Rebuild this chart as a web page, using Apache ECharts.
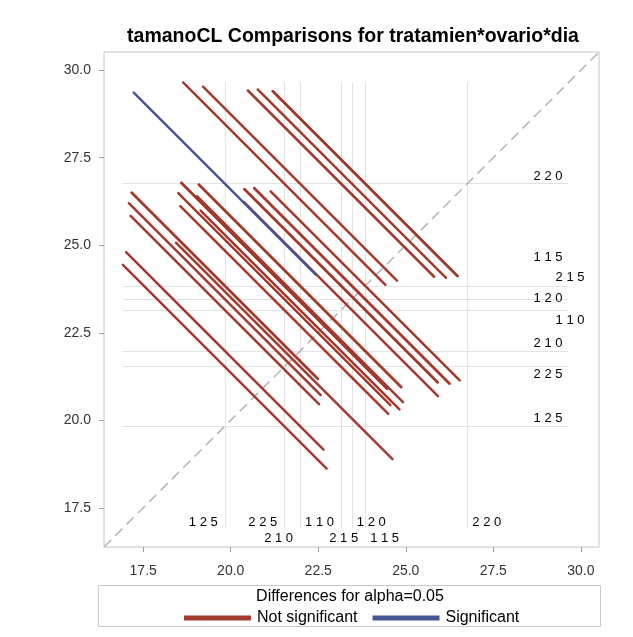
<!DOCTYPE html>
<html>
<head>
<meta charset="utf-8">
<script src="https://cdn.jsdelivr.net/npm/echarts@6/dist/echarts.min.js"></script>
<style>
html,body{margin:0;padding:0;background:#fff;}
#main{width:633px;height:637px;}
</style>
</head>
<body>
<div id="main"></div>
<script>
// LS-means per level (tratamien*ovario*dia)
var levels = ['110', '115', '120', '125', '210', '215', '220', '225'];
var lsmeans = [23.15, 23.84, 23.46, 19.83, 21.98, 23.84, 26.76, 21.53];

// pairwise comparisons: x level, y level, half length of the segment
var pairX = ['125','125','125','125','125','125','125','225','225','225','225','225','225','210','210','210','210','210','110','110','110','110','120','120','120','215','215','115'];
var pairY = ['225','210','110','120','215','115','220','210','110','120','215','115','220','110','120','215','115','220','120','215','115','220','215','115','220','115','220','220'];
var halfLen = [2.91, 2.82, 2.69, 2.74, 2.66, 2.66, 2.60,
               3.09, 2.97, 3.03, 2.94, 2.94, 2.89,
               2.84, 2.94, 2.89, 2.89, 2.77,
               2.77, 2.76, 2.76, 2.66,
               2.79, 2.79, 2.69,
               2.70, 2.64, 2.64];

var tickValues = [17.5, 20.0, 22.5, 25.0, 27.5, 30.0];
var axisMin = 16.38, axisMax = 30.52;

var RED = '#A23A2E', BLUE = '#445694';
var FONT = '"Liberation Sans", Arial, sans-serif';

// label layout for the reference lines (bottom: side/row, right: column/offset)
var botSide = {'125':'L','225':'L','210':'L','110':'L','120':'R','215':'L','115':'R','220':'R'};
var botRow  = {'125':1,'225':1,'210':2,'110':1,'120':1,'215':2,'115':2,'220':1};
var rightCol = {'220':1,'115':1,'215':2,'120':1,'110':2,'210':1,'225':1,'125':1};
var rightDy  = {'220':-7,'115':-28,'215':-8,'120':-1,'110':10,'210':-8,'225':8,'125':-8};

function meanOf(lv){ return lsmeans[levels.indexOf(lv)]; }

var notSig = [], sig = [];
var refMin = Infinity, refMax = -Infinity;
for (var i = 0; i < pairX.length; i++) {
    var cx = meanOf(pairX[i]), cy = meanOf(pairY[i]), h = halfLen[i];
    var seg = {coords: [[cx - h, cy + h], [cx + h, cy - h]]};
    refMin = Math.min(refMin, cx - h, cy - h);
    refMax = Math.max(refMax, cx + h, cy + h);
    if (Math.abs(cx - cy) > 2 * h) sig.push(seg); else notSig.push(seg);
}

var refLines = [];
lsmeans.forEach(function(m, k){
    if (lsmeans.indexOf(m) !== k) return;
    refLines.push({coords: [[m, refMin], [m, refMax]]});
    refLines.push({coords: [[refMin, m], [refMax, m]]});
});

var myChart = echarts.init(document.getElementById('main'));

option = {
    backgroundColor: '#fff',
    animation: false,
    textStyle: {fontFamily: FONT},
    title: {
        text: 'tamanoCL Comparisons for tratamien*ovario*dia',
        left: 348,
        textAlign: 'center',
        top: 22,
        textStyle: {fontSize: 19.5, fontWeight: 'bold', color: '#000', fontFamily: FONT}
    },
    grid: {
        left: 104, top: 52, right: 34, bottom: 90,
        show: true, borderColor: '#c4c4c4', borderWidth: 1
    },
    legend: {
        left: 184,
        top: 610,
        padding: 0,
        itemWidth: 65,
        itemHeight: 3,
        itemGap: 15,
        icon: 'rect',
        textStyle: {fontSize: 16, color: '#000', fontFamily: FONT, padding: [0, 0, 0, 2]},
        data: ['Not significant', 'Significant']
    },
    xAxis: {
        type: 'value', min: axisMin, max: axisMax,
        axisLine: {show: false},
        splitLine: {show: false},
        axisTick: {show: true, customValues: tickValues, length: 5, lineStyle: {color: '#a0a0a0'}},
        axisLabel: {
            customValues: tickValues, margin: 17, fontSize: 14, color: '#333',
            formatter: function(v){ return v.toFixed(1); }
        }
    },
    yAxis: {
        type: 'value', min: axisMin, max: axisMax,
        axisLine: {show: false},
        splitLine: {show: false},
        axisTick: {show: true, customValues: tickValues, length: 5, lineStyle: {color: '#a0a0a0'}},
        axisLabel: {
            customValues: tickValues, margin: 13, fontSize: 14, color: '#333',
            formatter: function(v){ return v.toFixed(1); }
        }
    },
    graphic: [
        {type: 'rect', shape: {x: 98.5, y: 585.5, width: 502, height: 41},
         style: {fill: 'none', stroke: '#c8c8c8', lineWidth: 1}},
        {type: 'text', x: 350, y: 597,
         style: {text: 'Differences for alpha=0.05', fill: '#000', font: '16px ' + FONT,
                 textAlign: 'center', textVerticalAlign: 'middle'}}
    ],
    series: [
        {
            name: 'ref', type: 'lines', coordinateSystem: 'cartesian2d', silent: true, z: 1,
            lineStyle: {color: '#e2e2e2', width: 1, opacity: 1},
            data: refLines
        },
        {
            name: 'diag', type: 'lines', coordinateSystem: 'cartesian2d', silent: true, z: 2,
            lineStyle: {color: '#b4b4b4', width: 1.5, type: [10, 6], opacity: 1},
            data: [{coords: [[axisMin, axisMin], [axisMax, axisMax]]}]
        },
        {
            name: 'Not significant', type: 'lines', coordinateSystem: 'cartesian2d', z: 3,
            itemStyle: {color: RED},
            lineStyle: {color: RED, width: 2.5, opacity: 1, cap: 'round'},
            data: notSig
        },
        {
            name: 'Significant', type: 'lines', coordinateSystem: 'cartesian2d', z: 4,
            itemStyle: {color: BLUE},
            lineStyle: {color: BLUE, width: 2.5, opacity: 1, cap: 'round'},
            data: sig
        },
        {
            name: 'labels', type: 'custom', coordinateSystem: 'cartesian2d', silent: true, z: 5,
            clip: false,
            encode: {x: 0, y: 1},
            data: lsmeans.map(function(m){ return [m, m]; }),
            renderItem: function(params, api){
                var lv = levels[params.dataIndex];
                var m = lsmeans[params.dataIndex];
                var txt = lv.split('').join(' ');
                var pb = api.coord([m, axisMin]);
                var pr = api.coord([axisMax, m]);
                var left = botSide[lv] === 'L';
                return {
                    type: 'group',
                    children: [
                        {type: 'text', x: pb[0] + (left ? -7 : 5), y: pb[1] - (botRow[lv] === 1 ? 25 : 9),
                         style: {text: txt, fill: '#000', font: '13px ' + FONT,
                                 textAlign: left ? 'right' : 'left', textVerticalAlign: 'middle'}},
                        {type: 'text', x: pr[0] - (rightCol[lv] === 1 ? 51 : 29), y: pr[1] + rightDy[lv],
                         style: {text: txt, fill: '#000', font: '13px ' + FONT,
                                 textAlign: 'center', textVerticalAlign: 'middle'}}
                    ]
                };
            }
        }
    ]
};

myChart.setOption(option, true);
</script>
</body>
</html>
